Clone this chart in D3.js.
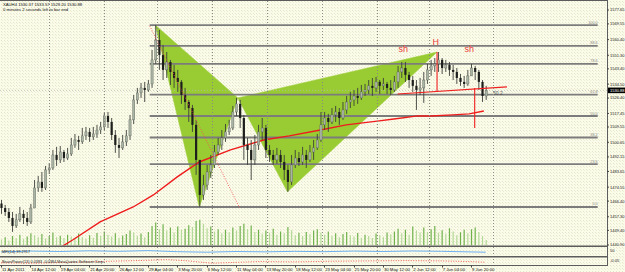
<!DOCTYPE html>
<html><head><meta charset="utf-8">
<script src="https://cdn.jsdelivr.net/npm/d3@7"></script>
<style>html,body{margin:0;padding:0;background:#fafae6}svg{display:block}</style>
</head><body><svg id="c" width="625" height="272"></svg>
<script>
// ---------- data ----------
const headerLine1 = "XAUH4  1530.37 1533.57 1529.20 1530.88";
const headerLine2 = "0 minutes 2 seconds left to bar end";
const lastPrice = 1530.88;
const firstOpen = 1465.0;
// one candle per 2 H4 bars
const closes = [
1462.4,1460.1,1456.6,1452.0,1455.5,1459.0,1456.6,1454.3,1462.4,1474.1,
1477.6,1474.1,1484.6,1485.7,1493.3,1490.4,1495.0,1491.5,1493.9,1499.1,
1502.0,1500.9,1504.4,1506.7,1503.8,1505.5,1507.8,1509.6,1516.0,1512.5,
1504.9,1499.1,1497.4,1500.9,1504.4,1513.7,1525.3,1529.4,1532.3,1531.1,
1534.6,1548.6,1560.2,1551.5,1542.8,1547.4,1541.6,1538.1,1535.8,1528.2,
1524.1,1520.6,1510.8,1490.4,1470.0,1475.8,1483.4,1487.5,1495.0,1499.1,
1503.2,1506.7,1509.0,1518.3,1523.0,1514.8,1499.1,1496.2,1490.4,1499.1,
1506.7,1509.0,1496.2,1493.3,1490.4,1493.3,1489.2,1484.6,1477.6,1487.5,
1491.5,1489.2,1493.3,1490.4,1495.0,1497.4,1502.0,1510.8,1514.8,1512.5,
1516.6,1518.3,1514.8,1519.5,1524.1,1525.3,1527.6,1526.5,1530.0,1531.1,
1533.5,1532.3,1535.8,1533.5,1534.6,1532.3,1531.1,1535.8,1541.6,1543.9,
1539.9,1536.9,1533.5,1531.1,1532.3,1536.9,1542.8,1545.1,1546.3,1548.6,
1543.9,1545.7,1542.8,1541.6,1538.1,1535.8,1534.6,1539.3,1543.9,1541.6,
1535.8,1527.6,1530.9];
const highs = [
1467.1,1464.2,1462.4,1460.1,1459.0,1463.0,1461.3,1460.1,1464.8,1478.7,
1481.1,1483.4,1486.9,1488.6,1496.2,1498.0,1498.5,1496.2,1497.4,1503.2,
1505.5,1504.4,1509.0,1509.6,1509.0,1509.6,1510.8,1512.5,1517.7,1518.3,
1514.8,1507.8,1503.2,1504.9,1507.8,1516.6,1528.2,1532.3,1535.2,1535.8,
1536.9,1554.4,1568.9,1566.0,1557.3,1553.2,1548.6,1545.7,1542.8,1536.9,
1532.3,1525.3,1522.4,1513.7,1490.4,1481.7,1487.5,1493.3,1499.1,1503.2,
1507.8,1511.3,1513.7,1521.8,1526.5,1525.3,1516.6,1503.2,1502.0,1504.9,
1510.8,1514.8,1510.8,1499.1,1496.2,1497.4,1496.2,1493.3,1487.5,1493.3,
1496.2,1495.0,1498.0,1496.2,1499.1,1502.0,1505.5,1518.3,1518.3,1517.2,
1520.6,1521.8,1520.6,1524.1,1527.6,1530.0,1531.1,1532.3,1534.0,1534.6,
1536.9,1538.1,1538.7,1536.9,1538.1,1535.8,1536.9,1539.3,1545.1,1547.4,
1547.4,1541.6,1539.3,1536.9,1538.1,1541.6,1546.3,1548.6,1549.7,1553.2,
1549.7,1548.6,1547.4,1545.7,1543.9,1540.4,1539.3,1542.8,1546.3,1545.1,
1542.8,1536.9,1533.5];
const lows = [
1459.0,1457.8,1454.3,1448.5,1450.8,1454.3,1453.1,1452.0,1453.1,1462.4,
1471.8,1471.8,1472.9,1482.2,1484.6,1486.9,1488.6,1489.2,1490.4,1492.7,
1497.4,1496.2,1499.7,1502.0,1500.9,1502.0,1503.2,1505.5,1507.8,1509.0,
1502.0,1494.5,1491.5,1496.2,1498.5,1502.0,1511.3,1523.0,1526.5,1524.1,
1530.0,1532.3,1546.3,1542.8,1536.9,1538.1,1534.0,1532.3,1530.0,1523.0,
1519.5,1512.5,1506.7,1481.7,1463.0,1467.1,1472.9,1479.9,1485.7,1493.3,
1496.2,1500.9,1504.9,1507.8,1516.0,1509.0,1490.4,1487.5,1478.7,1487.5,
1496.2,1502.0,1491.5,1489.2,1487.5,1488.1,1485.7,1478.7,1471.8,1475.8,
1485.7,1486.9,1487.5,1485.7,1489.2,1490.4,1496.2,1500.9,1507.8,1506.7,
1511.3,1512.5,1510.8,1513.7,1517.2,1520.6,1521.8,1523.0,1525.3,1527.6,
1528.8,1527.6,1530.0,1528.8,1531.1,1528.8,1528.2,1530.0,1532.3,1538.1,
1535.8,1532.3,1530.0,1519.5,1528.2,1523.6,1534.6,1539.3,1541.6,1541.6,
1540.4,1541.6,1539.3,1536.9,1534.6,1533.5,1532.3,1533.5,1539.3,1536.9,
1531.1,1524.1,1525.3];
const volumes = [
22,30,18,35,28,40,25,33,45,38, 30,42,26,35,48,30,36,28,40,33,
27,44,31,25,38,29,46,35,52,40, 33,45,29,37,42,55,48,36,44,30,
50,72,85,60,78,55,66,48,70,58, 62,75,68,90,95,80,64,70,52,60,
45,58,49,66,55,72,80,61,74,50, 58,43,55,47,62,40,52,45,68,56,
38,47,35,50,42,55,60,48,40,52, 36,45,30,42,50,38,33,46,29,40,
35,28,44,38,30,48,41,52,62,45, 58,40,70,55,48,66,50,60,72,47,
56,43,64,52,38,49,58,45,60,66, 50,35,20];

const priceTicks = ["1577.65","1569.55","1560.40","1551.30","1543.40","1534.50","1526.40","1517.45","1509.55","1500.65","1492.15","1483.65","1474.55","1466.40","1457.30","1449.40","1440.90"];
const timeLabels = ["11 Apr 2011","14 Apr 12:00","19 Apr 04:00","21 Apr 20:00","26 Apr 12:00","29 Apr 04:00","3 May 20:00","6 May 12:00","11 May 04:00","13 May 20:00","18 May 12:00","23 May 04:00","25 May 20:00","30 May 12:00","2 Jun 12:00","7 Jun 04:00","9 Jun 20:00"];
const timeLabelBars = [0,16,32,48,64,80,96,112,128,144,160,176,192,208,224,240,256];
const gridBars = [26,56,85,115,145,175,205,233,268];

// Fibonacci retracement
const fibLevels = [0,23.6,38.2,50,61.8,78.6,88.6,100];
const fibLabels = ["0.0","23.6","38.2","50.0","61.8","78.6","88.6","100.0"];
const fibLow = 1463.0, fibHigh = 1568.9, fibStartBar = 81, fibEndBar = 325;

// harmonic pattern points [bar, price]
const triangle1 = [[84,1568.9],[108,1463.0],[129,1526.5]];
const triangle2 = [[129,1526.5],[156,1471.8],[237.5,1553.2]];
// dotted red trendline
const trendLine = [[81,1568.4],[130,1462.4]];

// moving average [bar, price]
const maBars   = [32,39,54,72,83,96,108,125,143,157,174,188,206,214,227,234,246,255,263];
const maValues = [1439.2,1443.8,1454.3,1463.0,1470.0,1480.5,1489.2,1496.2,1502.0,1504.4,1507.8,1510.8,1513.1,1514.2,1516.0,1516.0,1516.6,1517.2,1518.9];

// head & shoulders
const neckline = [[216,1528.8],[275.6,1532.9]];
const headLine = [[237.5,1553.2],[237.5,1530.5]];
const targetLine = [[258,1532.3],[258,1509.0]];
const hsLabels = [{t:"sh",bar:216.5,p:1553.2},{t:"H",bar:235,p:1557.5},{t:"sh",bar:252.5,p:1553.2}];
const sideNote = {t:"50.2", bar:268, p:1528.0};

// indicators
const mfiTitle = "MFI(14) 39.2917";
const mfiBars = [0,16,32,48,64,80,96,112,128,144,160,176,192,208,224,240,256,264];
const mfiValues = [45,55,50,58,52,60,48,42,50,46,52,48,55,50,56,52,45,42];
const bearsTitle = "BearsPower(13) 0.0383 -0.0384 MetaQuotes Software Corp.";
const bearsBars = [0,20,40,60,80,90,100,115,125,140,160,180,200,220,240,255,264];
const bearsValues = [-0.5,-0.6,-0.3,0,0.3,0.5,0.2,-0.6,-0.4,-0.1,-0.2,0,0.1,0.2,0.1,-0.1,-0.3];

// ---------- chart ----------
const svg = d3.select("#c");
const plotRight = 607;
const FONT = "'Liberation Sans', Arial, sans-serif";

const x = d3.scaleLinear().domain([0,264]).range([1,485.7]);
const y = d3.scaleLinear().domain([1440.85,1577.65]).range([245.05,10]);
const vy = d3.scaleLinear().domain([0,105]).range([245.5,217]);
const my = d3.scaleLinear().domain([0,100]).range([256,247]);
const by = d3.scaleLinear().domain([-1,1]).range([264.5,258]);

const defs = svg.append("defs");
const pat = defs.append("pattern").attr("id","dots").attr("width",3).attr("height",3).attr("patternUnits","userSpaceOnUse");
pat.append("rect").attr("width",3).attr("height",3).attr("fill","#fbfbe9");
pat.append("rect").attr("x",1).attr("y",1).attr("width",1).attr("height",1).attr("fill","#e7e4cc");
pat.append("rect").attr("x",2).attr("y",2).attr("width",1).attr("height",1).attr("fill","#ecefd6");
defs.append("clipPath").attr("id","mainClip").append("rect").attr("x",0).attr("y",1).attr("width",plotRight).attr("height",244.5);

svg.append("rect").attr("width",625).attr("height",272).attr("fill","url(#dots)");

const main = svg.append("g").attr("clip-path","url(#mainClip)");

// harmonic triangles
const poly = d3.line().x(d=>x(d[0])).y(d=>y(d[1]));
[triangle1,triangle2].forEach(t=>{
  main.append("path").attr("d",poly(t)+"Z").attr("fill","#99cc33").attr("stroke","#99cc33").attr("stroke-width",0.5);
});

// grid
svg.append("g").selectAll("line").data(gridBars).join("line")
  .attr("x1",d=>Math.round(x(d))+0.5).attr("x2",d=>Math.round(x(d))+0.5)
  .attr("y1",1).attr("y2",266)
  .attr("stroke","#8a8a80").attr("stroke-width",1).attr("stroke-dasharray","1,2");

// fib lines
const fibPrice = l => fibLow + (fibHigh-fibLow)*l/100;
main.append("g").selectAll("line").data(fibLevels).join("line")
  .attr("x1",x(fibStartBar)).attr("x2",x(fibEndBar))
  .attr("y1",d=>y(fibPrice(d))).attr("y2",d=>y(fibPrice(d)))
  .attr("stroke","#7c7c7c").attr("stroke-width",1.8);
main.append("g").selectAll("text").data(fibLevels).join("text")
  .attr("x",x(fibEndBar)).attr("y",d=>y(fibPrice(d))-1.5)
  .attr("text-anchor","end").attr("font-family",FONT).attr("font-size",3.8).attr("fill","#8a8a8a")
  .text((d,i)=>fibLabels[i]);

// bid line
main.append("line").attr("x1",0).attr("x2",plotRight).attr("y1",y(lastPrice)).attr("y2",y(lastPrice))
  .attr("stroke","#b8b8b0").attr("stroke-width",0.8).attr("stroke-dasharray","1,2");

// volumes
main.append("g").selectAll("line").data(volumes).join("line")
  .attr("x1",(d,i)=>x(i*2)+0.5).attr("x2",(d,i)=>x(i*2)+0.5)
  .attr("y1",vy(0)).attr("y2",d=>vy(d))
  .attr("stroke",(d,i)=> i>0 && d>volumes[i-1] ? "#6fb24c" : "#b3da98").attr("stroke-width",1.2);

// moving average
const maPts = maBars.map((b,i)=>[b,maValues[i]]);
main.append("path").attr("d",d3.line().x(d=>x(d[0])).y(d=>y(d[1]))(maPts))
  .attr("fill","none").attr("stroke","#ee1c1c").attr("stroke-width",1.4);

// candles
const candles = closes.map((c,k)=>{
  const o = k===0 ? firstOpen : closes[k-1];
  return {bar:k*2, o, c, h:Math.max(highs[k],o,c), l:Math.min(lows[k],o,c)};
});
const cg = main.append("g");
cg.selectAll("line").data(candles).join("line")
  .attr("x1",d=>x(d.bar)+0.5).attr("x2",d=>x(d.bar)+0.5)
  .attr("y1",d=>y(d.h)).attr("y2",d=>y(d.l))
  .attr("stroke","#3c3f3a").attr("stroke-width",0.9);
cg.selectAll("rect").data(candles).join("rect")
  .attr("x",d=>x(d.bar)-0.6).attr("width",2.2)
  .attr("y",d=>y(Math.max(d.o,d.c))).attr("height",d=>Math.max(0.8,Math.abs(y(d.o)-y(d.c))))
  .attr("fill",d=>d.c>=d.o ? "#aab4a4" : "#1d1f1c")
  .attr("stroke",d=>d.c>=d.o ? "#5d645a" : "none").attr("stroke-width",0.4);

// dotted red trendline
main.append("path").attr("d",poly(trendLine)).attr("fill","none")
  .attr("stroke","#f05050").attr("stroke-width",0.9).attr("stroke-dasharray","1,1.5");

// head & shoulders lines
[neckline,headLine,targetLine].forEach(l=>{
  main.append("path").attr("d",poly(l)).attr("fill","none").attr("stroke","#f02020").attr("stroke-width",1.1);
});
main.append("g").selectAll("text").data(hsLabels).join("text")
  .attr("x",d=>x(d.bar)).attr("y",d=>y(d.p)).attr("font-family",FONT).attr("font-size",9)
  .attr("fill","#ea3b3b").text(d=>d.t);
main.append("text").attr("x",x(sideNote.bar)).attr("y",y(sideNote.p)).attr("font-family",FONT)
  .attr("font-size",5).attr("fill","#555").text(sideNote.t);

// header
svg.append("text").attr("x",3).attr("y",6).attr("font-family",FONT).attr("font-size",4.2).attr("fill","#111").text(headerLine1);
svg.append("text").attr("x",3).attr("y",10.5).attr("font-family",FONT).attr("font-size",4.2).attr("fill","#111").text(headerLine2);

// indicator panels
svg.append("path").attr("d",d3.line().x(d=>x(d[0])).y(d=>my(d[1]))(mfiBars.map((b,i)=>[b,mfiValues[i]])))
  .attr("fill","none").attr("stroke","#6cb0f0").attr("stroke-width",1);
svg.append("text").attr("x",2).attr("y",253).attr("font-family",FONT).attr("font-size",3.8).attr("fill","#222").text(mfiTitle);
svg.append("path").attr("d",d3.line().x(d=>x(d[0])).y(d=>by(d[1]))(bearsBars.map((b,i)=>[b,bearsValues[i]])))
  .attr("fill","none").attr("stroke","#f04848").attr("stroke-width",0.9).attr("stroke-dasharray","1,1.5");
svg.append("text").attr("x",2).attr("y",262.5).attr("font-family",FONT).attr("font-size",3.8).attr("fill","#222").text(bearsTitle);

// frames
const frame = svg.append("g").attr("stroke","#5c5c5c");
frame.append("line").attr("x1",0).attr("x2",plotRight).attr("y1",0.5).attr("y2",0.5).attr("stroke-width",1);
frame.append("line").attr("x1",0).attr("x2",plotRight+1).attr("y1",246.2).attr("y2",246.2).attr("stroke-width",1.6);
frame.append("line").attr("x1",0).attr("x2",plotRight+1).attr("y1",256.8).attr("y2",256.8).attr("stroke-width",1.6);
frame.append("line").attr("x1",0).attr("x2",plotRight+1).attr("y1",265.5).attr("y2",265.5).attr("stroke-width",1);
frame.append("line").attr("x1",plotRight+0.5).attr("x2",plotRight+0.5).attr("y1",0).attr("y2",266).attr("stroke-width",1);

// right price axis
const ax = svg.append("g");
ax.selectAll("line").data(priceTicks).join("line")
  .attr("x1",plotRight).attr("x2",plotRight+2).attr("y1",d=>y(+d)).attr("y2",d=>y(+d)).attr("stroke","#444");
ax.selectAll("text").data(priceTicks).join("text")
  .attr("x",plotRight+3).attr("y",d=>y(+d)+1.4).attr("font-family",FONT).attr("font-size",4).attr("fill","#222").text(d=>d);
svg.append("rect").attr("x",plotRight+1).attr("y",y(lastPrice)-2.8).attr("width",17).attr("height",5.6).attr("fill","#000");
svg.append("text").attr("x",plotRight+3).attr("y",y(lastPrice)+1.4).attr("font-family",FONT).attr("font-size",4).attr("fill","#fff").text(lastPrice.toFixed(2));
svg.append("text").attr("x",plotRight+3).attr("y",252).attr("font-family",FONT).attr("font-size",4).attr("fill","#222").text("50");
svg.append("text").attr("x",plotRight+3).attr("y",262).attr("font-family",FONT).attr("font-size",4).attr("fill","#222").text("-0.05");

// time axis
const tx = svg.append("g");
tx.selectAll("line").data(timeLabelBars).join("line")
  .attr("x1",d=>Math.round(x(d))+0.5).attr("x2",d=>Math.round(x(d))+0.5).attr("y1",265.5).attr("y2",267.5).attr("stroke","#444");
tx.selectAll("text").data(timeLabelBars).join("text")
  .attr("x",d=>x(d)+1).attr("y",271).attr("font-family",FONT).attr("font-size",4.3).attr("fill","#111")
  .text((d,i)=>timeLabels[i]);
</script>
</body></html>
